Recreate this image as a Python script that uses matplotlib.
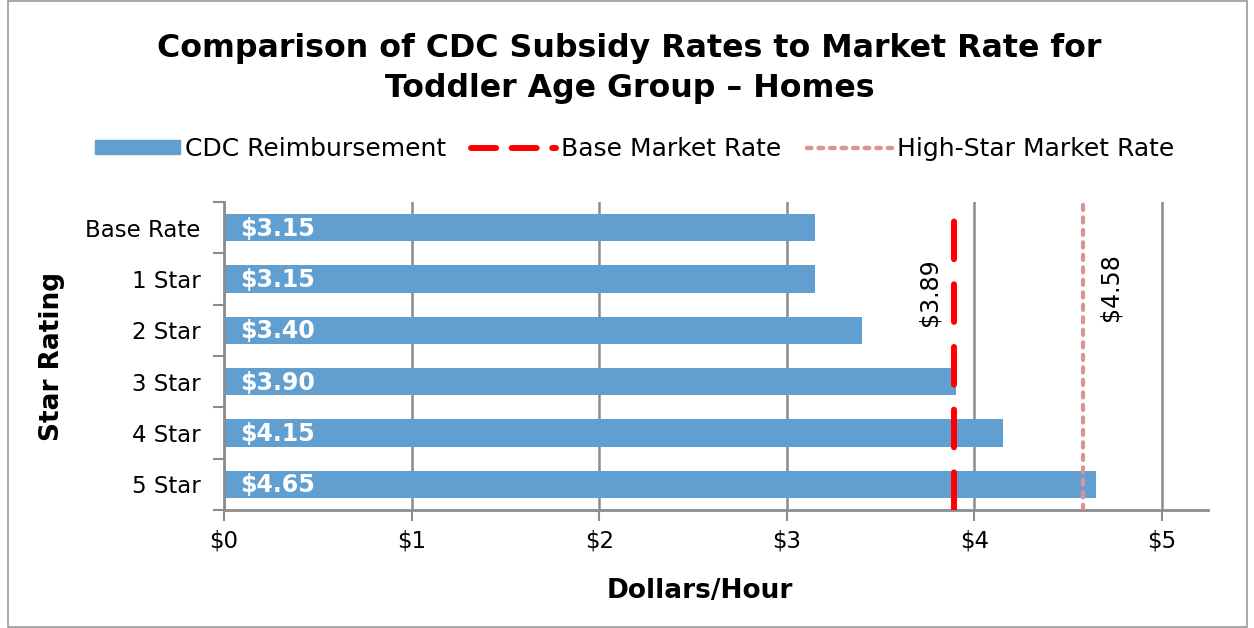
import matplotlib.pyplot as plt
from matplotlib.patches import Rectangle, Patch
from matplotlib.lines import Line2D

categories = ["Base Rate", "1 Star", "2 Star", "3 Star", "4 Star", "5 Star"]
reimbursement = [3.15, 3.15, 3.40, 3.90, 4.15, 4.65]
base_market = 3.89
high_star_market = 4.58
x_ticks = [0, 1, 2, 3, 4, 5]
x_labels = ["$0", "$1", "$2", "$3", "$4", "$5"]

plt.rcParams['font.family'] = ['DejaVu Sans']

bar_color = '#629FD1'
grid_color = '#8C8C8C'
red = '#FF0000'
pink = '#D99594'

fig = plt.figure(figsize=(12.54, 6.28), dpi=100)
ax = fig.add_axes([224 / 1254, 1 - 510 / 628, (1208 - 224) / 1254, (510 - 202) / 628])

y = list(range(len(categories)))
ax.barh(y, reimbursement, height=0.53, color=bar_color, zorder=2)
for yi, v in zip(y, reimbursement):
    ax.text(0.085, yi + 0.02, f"${v:.2f}", color='white', fontsize=17, fontweight='bold',
            va='center', ha='left', zorder=4)

ax.set_ylim(len(categories) - 0.5, -0.5)
ax.set_xlim(0, 5.245)

# market rate lines
ax.axvline(base_market, color=red, lw=4.3,
           linestyle=(0, (6.3, 4.2)), dash_capstyle='round', zorder=3)
ax.axvline(high_star_market, color=pink, lw=3,
           linestyle=(0, (1.25, 1.75)), dash_capstyle='round', zorder=3)
ax.text(base_market - 0.127, 1.25, f"${base_market:.2f}", rotation=90, fontsize=17,
        va='center', ha='center')
ax.text(high_star_market + 0.143, 1.16, f"${high_star_market:.2f}", rotation=90, fontsize=17,
        va='center', ha='center')

# axes styling
ax.set_xticks(x_ticks)
ax.set_xticklabels(x_labels, fontsize=16.5)
ax.set_yticks(y)
ax.set_yticklabels(categories, fontsize=16.5)
ax.tick_params(axis='y', length=0, pad=17)
ax.tick_params(axis='x', length=8, width=1.5, color=grid_color, pad=6)
ax.set_yticks([i - 0.5 for i in range(len(categories) + 1)], minor=True)
ax.tick_params(axis='y', which='minor', length=8, width=1.5, color=grid_color)
ax.grid(axis='x', color=grid_color, lw=1.8, zorder=0)
for s in ['top', 'right']:
    ax.spines[s].set_visible(False)
for s in ['left', 'bottom']:
    ax.spines[s].set_color(grid_color)
    ax.spines[s].set_linewidth(2)

ax.set_xlabel("Dollars/Hour", fontsize=19, fontweight='bold')
ax.xaxis.set_label_coords(0.484, -0.222)
ax.set_ylabel("Star Rating", fontsize=19, fontweight='bold')
ax.yaxis.set_label_coords(-0.162, 0.5)

fig.text(0.502, 1 - 48 / 628, "Comparison of CDC Subsidy Rates to Market Rate for",
         fontsize=22.8, fontweight='bold', ha='center', va='center')
fig.text(0.502, 1 - 88 / 628, "Toddler Age Group \u2013 Homes",
         fontsize=22.8, fontweight='bold', ha='center', va='center')

handles = [
    Patch(color=bar_color),
    Line2D([], [], color=red, lw=4.3, linestyle=(0, (4.2, 2.6)), dash_capstyle='round'),
    Line2D([], [], color=pink, lw=3.2, linestyle=(0, (1.0, 1.6)), dash_capstyle='round'),
]
fig.legend(handles, ["CDC Reimbursement", "Base Market Rate", "High-Star Market Rate"],
           loc='center', bbox_to_anchor=(0.506, 1 - 149 / 628), ncol=3, frameon=False,
           fontsize=18, handlelength=3.4, handleheight=0.45, handletextpad=0.2,
           columnspacing=1.0)

fig.patches.append(Rectangle((8 / 1254, 0.002), 1239 / 1254, 0.996, transform=fig.transFigure,
                             fill=False, edgecolor='#999999', lw=1.2))

fig.savefig("out.png", dpi=100)
